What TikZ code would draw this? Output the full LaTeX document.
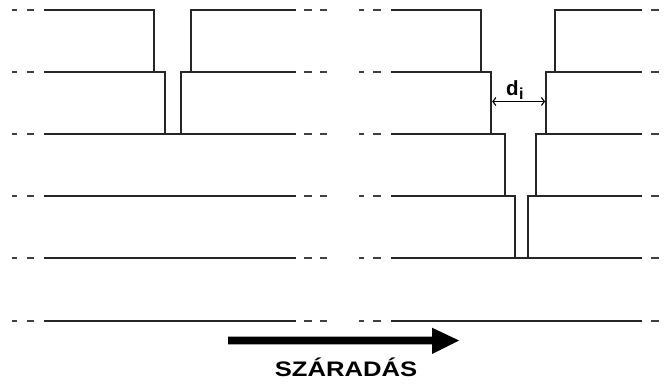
\documentclass[tikz,border=0pt]{standalone}
\usepackage{fontspec}
\setmainfont{Liberation Sans}
\usetikzlibrary{arrows.meta}
\begin{document}
\begin{tikzpicture}[x=1pt,y=-1pt,
  layer/.style={line width=1.7pt,color=black!85},
  dsh/.style={line width=1.7pt,color=black!75},
  dim/.style={line width=1.1pt,{Straight Barb[length=3pt,width=8pt]}-{Straight Barb[length=3pt,width=8pt]}}]
\useasboundingbox (0,0) rectangle (667,385);
% dashed line ends
\foreach \yy in {10,72,134,196,258,321}{
  \draw[dsh] (12,\yy) -- (17,\yy);
  \draw[dsh] (27,\yy) -- (34,\yy);
  \draw[dsh] (304,\yy) -- (312,\yy);
  \draw[dsh] (320,\yy) -- (327,\yy);
  \draw[dsh] (359,\yy) -- (364,\yy);
  \draw[dsh] (373,\yy) -- (381,\yy);
  \draw[dsh] (651,\yy) -- (659,\yy);
}
% left panel
\draw[layer] (44,10) -- (154,10) -- (154,72);
\draw[layer] (296,10) -- (191,10) -- (191,72);
\draw[layer] (44,72) -- (165,72) -- (165,134);
\draw[layer] (296,72) -- (181,72) -- (181,134);
\foreach \yy in {134,196,258,321}{\draw[layer] (44,\yy) -- (296,\yy);}
% right panel
\draw[layer] (391,10) -- (480.7,10) -- (480.7,72);
\draw[layer] (642,10) -- (555.3,10) -- (555.3,72);
\draw[layer] (391,72) -- (491.3,72) -- (491.3,134);
\draw[layer] (642,72) -- (546,72) -- (546,134);
\draw[layer] (391,134) -- (505.3,134) -- (505.3,196);
\draw[layer] (642,134) -- (536.3,134) -- (536.3,196);
\draw[layer] (391,196) -- (515,196) -- (515,258);
\draw[layer] (642,196) -- (528.3,196) -- (528.3,258);
\foreach \yy in {258,321}{\draw[layer] (391,\yy) -- (642,\yy);}
% gap width dimension
\coordinate (dl) at (492.2,101.5);
\coordinate (dr) at (545.1,101.5);
\draw[dim] (dl) -- (dr);
\node[anchor=base west,inner sep=0pt,font=\fontsize{20.5}{22}\selectfont\bfseries] (di) at (506,96) {d\kern0.3pt\raisebox{-3.5pt}{\fontsize{16}{16}\selectfont i}};
% drying arrow
\fill (228,336.7) -- (432,336.7) -- (432,327.7) -- (459,340.5) -- (432,354) -- (432,344.3) -- (228,344.3) -- cycle;
\node[anchor=base,inner sep=0pt,xscale=1.22,font=\fontsize{21}{22}\selectfont\bfseries] (lbl) at (346,376.7) {SZÁRADÁS};
\end{tikzpicture}
\end{document}
